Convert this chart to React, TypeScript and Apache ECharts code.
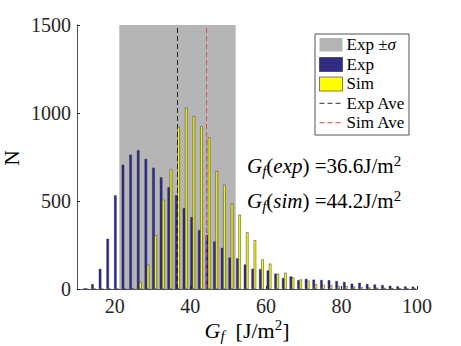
import React, { useEffect, useRef } from "react";
import * as echarts from "echarts";

// Histogram bin centres (G_f, J/m^2)
const bins = [
  12.36, 14.38, 16.4, 18.42, 20.44, 22.46, 24.48, 26.5, 28.52, 30.54, 32.56,
  34.58, 36.6, 38.62, 40.64, 42.66, 44.68, 46.7, 48.72, 50.74, 52.76, 54.78,
  56.8, 58.82, 60.84, 62.86, 64.88, 66.9, 68.92, 70.94, 72.96, 74.98, 77.0,
  79.02, 81.04, 83.06, 85.08, 87.1, 89.12, 91.14, 93.16, 95.18, 97.2, 99.22,
];
const expCounts = [
  4, 27, 114, 285, 532, 706, 763, 788, 739, 689, 634, 578, 533, 459, 408, 334,
  305, 270, 234, 178, 174, 139, 115, 113, 105, 87, 62, 71, 50, 57, 53, 51, 50,
  45, 40, 30, 35, 28, 25, 22, 18, 15, 14, 13,
];
const simCounts = [
  0, 0, 0, 0, 0, 0, 4, 41, 138, 305, 507, 681, 921, 1030, 983, 925, 862, 670,
  592, 487, 422, 322, 277, 168, 144, 87, 92, 66, 54, 47, 27, 24, 22, 18, 16,
  14, 11, 9, 7, 6, 5, 4, 3, 2,
];
const expMean = 36.6;
const simMean = 44.2;
const expStd = 15.4;
const xTicks = [20, 40, 60, 80, 100];

const FONT = "Liberation Serif";
const NAVY = "#302c84";
const YELLOW = "#ffff00";
const BAND = "rgba(0,0,0,0.29)";
const RED = "#e0474c";
const AX = "#262626";

function richSet(size: number, small: number, lh: number) {
  return {
    n: { fontFamily: FONT, fontSize: size, color: "#000", lineHeight: lh, verticalAlign: "middle" },
    i: { fontFamily: FONT, fontSize: size, fontStyle: "italic", color: "#000", lineHeight: lh, verticalAlign: "middle" },
    s: { fontFamily: FONT, fontSize: small, fontStyle: "italic", color: "#000", verticalAlign: "bottom", lineHeight: small },
    p: { fontFamily: FONT, fontSize: small, color: "#000", verticalAlign: "top", lineHeight: small },
  };
}

export default function App() {
  const ref = useRef<HTMLDivElement>(null);
  useEffect(() => {
    if (!ref.current) return;
    const chart = echarts.init(ref.current, undefined, { renderer: "svg" });
    const annRich = richSet(21, 15, 25);
    const titleRich = richSet(22, 15, 26);
    const legRich = {
      n: { fontFamily: FONT, fontSize: 17, color: "#000" },
      i: { fontFamily: FONT, fontSize: 17, fontStyle: "italic", color: "#000" },
    };
    const rows = [44, 64, 83.5, 103, 122.5];
    chart.setOption({
      animation: false,
      textStyle: { fontFamily: FONT },
      grid: { left: 77, right: 44, top: 25, bottom: 57 },
      xAxis: {
        type: "value",
        min: 10,
        max: 100,
        axisLine: { show: true, lineStyle: { color: AX, width: 0.8 } },
        axisTick: { show: true, inside: true, length: 3, customValues: xTicks, lineStyle: { color: AX } },
        axisLabel: { customValues: xTicks, fontFamily: FONT, fontSize: 20, color: AX, margin: 7 },
        splitLine: { show: false },
      },
      yAxis: {
        type: "value",
        min: 0,
        max: 1500,
        interval: 500,
        axisLine: { show: true, lineStyle: { color: AX, width: 0.8 } },
        axisTick: { show: true, inside: true, length: 3, lineStyle: { color: AX } },
        axisLabel: { fontFamily: FONT, fontSize: 20, color: AX, margin: 6, formatter: (v: number) => String(v) },
        splitLine: { show: false },
      },
      series: [
        {
          name: "Exp",
          type: "bar",
          data: bins.map((b, i) => [b, expCounts[i]]),
          barWidth: 2.5,
          barGap: "-12%",
          itemStyle: { color: NAVY, borderColor: "#1c1a55", borderWidth: 0.4 },
          z: 2,
        },
        {
          name: "Sim",
          type: "bar",
          data: bins.map((b, i) => [b, simCounts[i]]),
          barWidth: 2.5,
          barGap: "-12%",
          itemStyle: { color: YELLOW, borderColor: "#333", borderWidth: 0.5 },
          z: 2,
        },
        {
          name: "band",
          type: "line",
          data: [],
          z: 5,
          silent: true,
          markArea: {
            silent: true,
            itemStyle: { color: BAND },
            data: [[{ xAxis: expMean - expStd }, { xAxis: expMean + expStd }]],
          },
        },
        {
          name: "means",
          type: "line",
          data: [],
          z: 6,
          silent: true,
          markLine: {
            silent: true,
            symbol: "none",
            label: { show: false },
            data: [
              { xAxis: expMean, lineStyle: { color: "#222", type: [5, 3], width: 1 } },
              { xAxis: simMean, lineStyle: { color: RED, type: [5, 3], width: 1 } },
            ],
          },
        },
      ],
      graphic: [
        {
          type: "rect",
          shape: { x: 315, y: 34, width: 94, height: 101 },
          style: { fill: "#fff", stroke: AX, lineWidth: 0.8 },
          z: 10,
        },
        { type: "rect", shape: { x: 319.5, y: 38, width: 23, height: 13.5 }, style: { fill: "#b4b4b4" }, z: 11 },
        { type: "rect", shape: { x: 319.5, y: 57.5, width: 23, height: 14 }, style: { fill: NAVY, stroke: "#1c1a55", lineWidth: 0.6 }, z: 11 },
        { type: "rect", shape: { x: 319.5, y: 77, width: 23, height: 14 }, style: { fill: YELLOW, stroke: AX, lineWidth: 0.6 }, z: 11 },
        { type: "line", shape: { x1: 319.5, y1: 103.3, x2: 342, y2: 103.3 }, style: { stroke: "#333", lineWidth: 1, lineDash: [5, 3] }, z: 11 },
        { type: "line", shape: { x1: 319.5, y1: 122.7, x2: 342, y2: 122.7 }, style: { stroke: RED, lineWidth: 1, lineDash: [5, 3] }, z: 11 },
        ...[
          "{n|Exp ±}{i|σ}",
          "{n|Exp}",
          "{n|Sim}",
          "{n|Exp Ave}",
          "{n|Sim Ave}",
        ].map((t, k) => ({
          type: "text",
          x: 346.5,
          y: rows[k],
          z: 11,
          style: { text: t, rich: legRich, fontFamily: FONT, fontSize: 17, textVerticalAlign: "middle", textAlign: "left" },
        })),
        {
          type: "text",
          x: 247,
          y: 166,
          z: 11,
          style: {
            text: "{i|G}{s|f}{n|(}{i|exp}{n|) =36.6J/m}{p|2}",
            rich: annRich,
            fontFamily: FONT,
            fontSize: 21,
            textVerticalAlign: "middle",
          },
        },
        {
          type: "text",
          x: 247,
          y: 201,
          z: 11,
          style: {
            text: "{i|G}{s|f}{n|(}{i|sim}{n|) =44.2J/m}{p|2}",
            rich: annRich,
            fontFamily: FONT,
            fontSize: 21,
            textVerticalAlign: "middle",
          },
        },
        {
          type: "text",
          x: 247,
          y: 330,
          z: 11,
          style: {
            text: "{i|G}{s|f}{n|  [J/m}{p|2}{n|]}",
            rich: titleRich,
            fontFamily: FONT,
            fontSize: 22,
            textAlign: "center",
            textVerticalAlign: "middle",
          },
        },
        {
          type: "text",
          x: 12,
          y: 158,
          rotation: Math.PI / 2,
          z: 11,
          style: {
            text: "N",
            fontFamily: FONT,
            fontSize: 21,
            fill: "#000",
            textAlign: "center",
            textVerticalAlign: "middle",
          },
        },
      ],
    });
    return () => chart.dispose();
  }, []);
  return <div ref={ref} style={{ position: "absolute", left: 0, top: 0, width: 461, height: 346 }} />;
}
